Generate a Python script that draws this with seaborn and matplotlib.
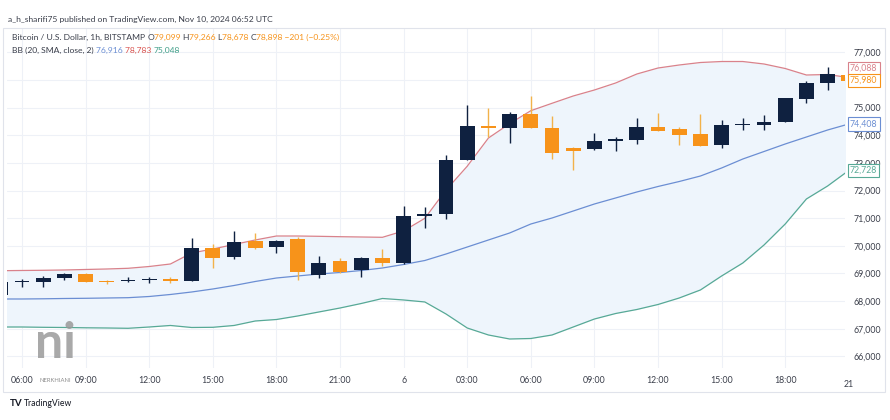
import matplotlib
matplotlib.use("Agg")
import numpy as np
import pandas as pd
import matplotlib.pyplot as plt
from matplotlib.patches import Rectangle
import seaborn as sns

# hourly BTCUSD candles, 05:00 (5 Nov) .. 21:00 (6 Nov)
opens = [68223, 68682, 68704, 68848, 68982, 68718, 68718, 68754, 68812, 68740,
         69933, 69586, 70175, 69948, 70237, 68946, 69452, 69127, 69572, 69369,
         71090, 71141, 73105, 74335, 74262, 74779, 74273, 73550, 73492, 73781,
         73828, 74309, 74215, 74034, 73647, 74371, 74371, 74490, 75311, 75901, 76179]
highs = [68720, 68790, 68910, 69000, 69029, 68765, 68884, 68884, 68863, 70273,
         70056, 70537, 70454, 70212, 70309, 69633, 69572, 69590, 69875, 71452,
         71416, 73286, 75094, 74975, 74830, 75430, 74696, 73560, 74092, 73948,
         74613, 74816, 74309, 74758, 74552, 74613, 74732, 75358, 75962, 76479, 76204]
lows = [68200, 68523, 68523, 68765, 68704, 68610, 68704, 68646, 68646, 68740,
        69210, 69514, 69886, 69730, 68765, 68826, 69007, 68884, 69282, 69344,
        70657, 70960, 73105, 73926, 73709, 74262, 73130, 72743, 73480, 73430,
        73684, 74150, 73647, 73610, 73550, 74190, 74190, 74480, 75177, 75637, 75960]
closes = [68704, 68729, 68826, 68982, 68704, 68682, 68765, 68801, 68740, 69933,
          69550, 70150, 69933, 70186, 69065, 69391, 69043, 69572, 69369, 71090,
          71141, 73094, 74345, 74262, 74779, 74262, 73369, 73441, 73792, 73854,
          74309, 74165, 74009, 73622, 74371, 74380, 74490, 75336, 75901, 76204, 75980]

# Bollinger bands (20, SMA, close, 2)
bb_upper = [69101, 69109, 69116, 69127, 69145, 69163, 69188, 69253, 69344, 69741,
            69886, 70049, 70212, 70356, 70356, 70345, 70331, 70320, 70309, 70540,
            70996, 72020, 72880, 73900, 74420, 74888, 75156, 75420, 75637, 75890,
            76215, 76432, 76541, 76631, 76667, 76667, 76577, 76414, 76179, 76197, 76088]
bb_basis = [68078, 68078, 68085, 68096, 68103, 68114, 68125, 68168, 68241, 68331,
            68440, 68566, 68711, 68837, 68910, 68982, 69036, 69109, 69199, 69326,
            69470, 69705, 69958, 70212, 70465, 70790, 71007, 71260, 71514, 71731,
            71948, 72147, 72327, 72526, 72816, 73141, 73412, 73684, 73937, 74190, 74408]
bb_lower = [67065, 67065, 67054, 67047, 67036, 67029, 67018, 67065, 67120, 67047,
            67054, 67120, 67282, 67336, 67463, 67608, 67752, 67915, 68096, 68042,
            67970, 67535, 67029, 66776, 66631, 66649, 66776, 67065, 67354, 67553,
            67698, 67879, 68114, 68404, 68910, 69380, 70031, 70790, 71695, 72165, 72728]

tick_pos = [1, 4, 7, 10, 13, 16, 19, 22, 25, 28, 31, 34, 37]
tick_labels = ["06:00", "09:00", "12:00", "15:00", "18:00", "21:00", "6",
               "03:00", "06:00", "09:00", "12:00", "15:00", "18:00"]
last_tick = (40, "21")
price_ticks = list(range(66000, 78000, 1000))
hidden_price = 76000  # covered by the last-value boxes

UP = "#0f2140"
DOWN = "#f7931a"
RED = "#d9828b"
BLUE = "#6b8ed3"
GREEN = "#57a996"
TXT = "#3a3e4a"

sns.set_theme(style="white")
plt.rcParams["font.family"] = ["Lato", "DejaVu Sans"]

df = pd.DataFrame({"i": np.arange(len(opens)), "open": opens, "high": highs,
                   "low": lows, "close": closes, "upper": bb_upper,
                   "basis": bb_basis, "lower": bb_lower})
df["up"] = df["close"] >= df["open"]

W, H = 890, 420
fig = plt.figure(figsize=(W / 100, H / 100), dpi=100)
ax = fig.add_axes([7 / W, 1 - 368 / H, 838 / W, 340 / H])

# band fill and lines
ax.fill_between(df["i"], df["lower"], df["upper"], color="#eef5fc", lw=0, zorder=1)
sns.lineplot(data=df, x="i", y="upper", color=RED, lw=0.9, ax=ax, zorder=2)
sns.lineplot(data=df, x="i", y="basis", color=BLUE, lw=0.9, ax=ax, zorder=2)
sns.lineplot(data=df, x="i", y="lower", color=GREEN, lw=0.9, ax=ax, zorder=2)

# candles
wick_c = np.where(df["up"], UP, "#f2b24a")
body_c = np.where(df["up"], UP, DOWN)
ax.vlines(df["i"], df["low"], df["high"], colors=wick_c, lw=1.0, zorder=3)
body_h = np.maximum((df["close"] - df["open"]).abs(), 45)
body_b = np.minimum(df["open"], df["close"])
ax.bar(df["i"], body_h, bottom=body_b, width=0.7, color=body_c, lw=0, zorder=4)

ax.set_xlim(0.29, 39.82)
ax.set_ylim(65582, 77879)
ax.set_xticks(tick_pos)
ax.set_xticklabels(tick_labels)
ax.set_yticks(price_ticks)
ax.set_yticklabels(["" if v == hidden_price else f"{v:,}" for v in price_ticks])
ax.yaxis.tick_right()
ax.grid(True, color="#eef1f7", lw=0.8, zorder=0)
ax.tick_params(axis="both", length=0, labelsize=6.3, colors=TXT)
ax.tick_params(axis="x", pad=6)
ax.tick_params(axis="y", pad=6)
ax.set_xlabel("")
ax.set_ylabel("")
for s in ax.spines.values():
    s.set_visible(False)
ax.text(last_tick[0], -12 / 340, last_tick[1], transform=ax.get_xaxis_transform(),
        ha="center", va="top", fontsize=6.3, color=TXT, clip_on=False)

# last value labels on price scale
labels = [(bb_upper[-1], RED, 9), (closes[-1], DOWN, 0),
          (bb_basis[-1], BLUE, 0), (bb_lower[-1], GREEN, 0)]
for v, c, dy in labels:
    ax.annotate(f"{v:,}", xy=(1, v), xycoords=ax.get_yaxis_transform(),
                xytext=(5, dy), textcoords="offset pixels", ha="left", va="center",
                fontsize=6.3, color=c, annotation_clip=False, zorder=6,
                bbox=dict(boxstyle="square,pad=0.25", fc="white", ec=c, lw=0.8))

# chart frame
fig.patches.append(Rectangle((3 / W, 1 - 392 / H), 882 / W, 364 / H,
                             transform=fig.transFigure, fill=False,
                             ec="#e0e3eb", lw=0.8))

renderer = fig.canvas.get_renderer()


def text_run(x, y, parts, size):
    for s, c in parts:
        t = fig.text(x / W, 1 - y / H, s, color=c, fontsize=size, va="center")
        x += t.get_window_extent(renderer).width


fig.text(8 / W, 1 - 19 / H, "a_h_sharifi75 published on TradingView.com, Nov 10, 2024 06:52 UTC",
         fontsize=6.1, color=TXT, va="center")
text_run(12, 37, [("Bitcoin / U.S. Dollar, 1h, BITSTAMP ", TXT), ("O", TXT), ("79,099 ", DOWN),
                  ("H", TXT), ("79,266 ", DOWN), ("L", TXT), ("78,678 ", DOWN),
                  ("C", TXT), ("78,898 \u2212201 (\u22120.25%)", DOWN)], 6.1)
text_run(12, 50, [("BB (20, SMA, close, 2) ", TXT), ("76,916 ", BLUE),
                  ("78,783 ", "#d9534f"), ("75,048", "#3f9e88")], 6.1)

# watermark
fig.text(55 / W, 1 - 344 / H, "ni", fontsize=36, fontweight="bold", color="#9a9a9a",
         ha="center", va="center", alpha=0.85)
fig.text(55 / W, 1 - 380 / H, "NERKHIANI", fontsize=4.2, color="#8a8a8a",
         ha="center", va="center")

# footer logo
fig.text(10 / W, 1 - 404 / H, "TV", fontsize=7, fontweight="bold", color="#131722", va="center")
fig.text(24 / W, 1 - 404 / H, "TradingView", fontsize=6.2, color="#131722", va="center")

fig.savefig("out.png", dpi=100, facecolor="white")
